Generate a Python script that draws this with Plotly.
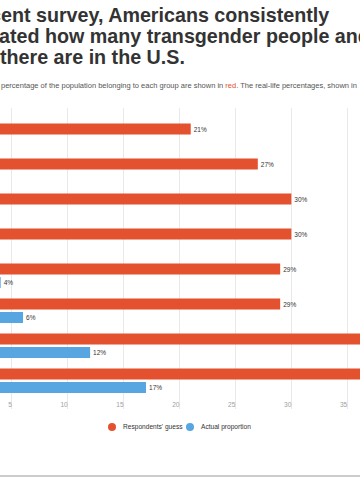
import plotly.graph_objects as go

# ---- data ----
categories = ["Transgender", "Muslim", "Jewish", "Gay or lesbian",
              "Bisexual", "Asian American", "Black", "Hispanic"]
guess = [21, 27, 30, 30, 29, 29, 41, 39]
actual = [1, 1, 2, 2, 4, 6, 12, 17]
tick_values = [5, 10, 15, 20, 25, 30, 35]
series_names = ["Respondents' guess", "Actual proportion"]

RED = "#e4512f"
BLUE = "#57a5e1"
FONT = "Liberation Sans, Arial, Helvetica, sans-serif"

W, H = 360, 504
PLOT_TOP, PLOT_BOT = 108, 409
TITLE_SIZE = 19.7


def px(x):
    return x / W


def py(y):
    return (PLOT_BOT - y) / (PLOT_BOT - PLOT_TOP)


fig = go.Figure()
fig.add_trace(go.Bar(
    y=categories, x=guess, orientation="h", name=series_names[0],
    marker=dict(color=RED, line=dict(width=0)),
    texttemplate="%{x}%", textposition="outside", constraintext="none",
    textfont=dict(size=6.5, color="#333333", family=FONT),
    showlegend=False, cliponaxis=True,
))
fig.add_trace(go.Bar(
    y=categories, x=actual, orientation="h", name=series_names[1],
    marker=dict(color=BLUE, line=dict(width=0)),
    texttemplate="%{x}%", textposition="outside", constraintext="none",
    textfont=dict(size=6.5, color="#333333", family=FONT),
    showlegend=False, cliponaxis=True,
))

annotations = [
    dict(text="In a recent survey, Americans consistently", x=px(331), xanchor="right",
         y=py(14.5), yanchor="middle"),
    dict(text="overestimated how many transgender people and", x=px(-96), xanchor="left",
         y=py(36), yanchor="middle"),
    dict(text="there are in the U.S.", x=px(-2), xanchor="left",
         y=py(56.5), yanchor="middle"),
]
for a in annotations:
    a.update(xref="paper", yref="paper", showarrow=False,
             font=dict(size=TITLE_SIZE, color="#333333", family=FONT, weight="bold"))

annotations.append(dict(
    text="percentage of the population belonging to each group are shown in "
         "<span style='color:%s'>red</span>. The real-life percentages, shown in" % RED,
    x=px(-1), xanchor="left", y=py(86), yanchor="middle", xref="paper", yref="paper",
    showarrow=False, font=dict(size=7.5, color="#555555", family=FONT)))

# legend (circle symbols + labels)
legend_items = [(112, RED, series_names[0]), (190, BLUE, series_names[1])]
shapes = []
for cx, col, name in legend_items:
    shapes.append(dict(type="circle", xref="paper", yref="paper",
                       xsizemode="pixel", ysizemode="pixel",
                       xanchor=px(cx), yanchor=py(427),
                       x0=-4, x1=4, y0=-4, y1=4,
                       fillcolor=col, line=dict(width=0)))
    annotations.append(dict(text=name, x=px(cx + 8.5), xanchor="left",
                            y=py(427), yanchor="middle", xref="paper", yref="paper",
                            showarrow=False,
                            font=dict(size=6.6, color="#333333", family=FONT)))

shapes.append(dict(type="line", xref="paper", yref="paper",
                   x0=0, x1=1, y0=py(476), y1=py(476),
                   line=dict(color="#cccccc", width=2)))

fig.update_layout(
    width=W, height=H,
    margin=dict(l=0, r=0, t=PLOT_TOP, b=H - PLOT_BOT, pad=0),
    paper_bgcolor="white", plot_bgcolor="white",
    barmode="group", bargap=0.229, bargroupgap=0.187,
    showlegend=False,
    annotations=annotations, shapes=shapes,
    font=dict(family=FONT),
    xaxis=dict(range=[3.94, 36.14], tickvals=tick_values,
               ticklabelposition="inside left", ticklabelstandoff=-5,
               tickfont=dict(size=6.6, color="#a0a0a0", family=FONT),
               showgrid=True, gridcolor="#e9e9e9", gridwidth=1,
               zeroline=False, showline=False, ticks="", fixedrange=True),
    yaxis=dict(categoryorder="array", categoryarray=categories,
               range=[7.807, -0.793], showticklabels=False, showgrid=False,
               zeroline=False, showline=False, ticks="", fixedrange=True),
)

fig.write_html(
    "out.html",
    config={"displayModeBar": False},
    post_script="document.body.style.margin='0';document.body.style.overflow='hidden';",
)
